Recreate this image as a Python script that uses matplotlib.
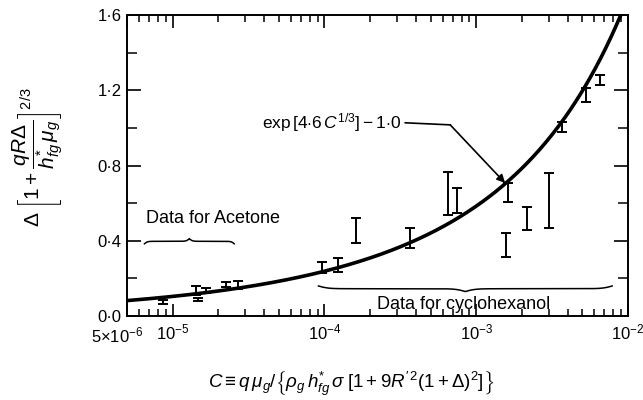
import numpy as np
import matplotlib.pyplot as plt
from matplotlib.ticker import FixedLocator, NullFormatter, LogLocator

plt.rcParams["font.family"] = ["Liberation Sans", "DejaVu Sans"]
plt.rcParams["mathtext.fontset"] = "custom"
plt.rcParams["mathtext.rm"] = "Liberation Sans"
plt.rcParams["mathtext.it"] = "Liberation Sans:italic"
plt.rcParams["mathtext.bf"] = "Liberation Sans:bold"

# error bars (low / high of each run) against the dimensionless flux C
acetone_c = [8.6e-6, 1.42e-5, 1.47e-5, 1.65e-5, 2.23e-5, 2.68e-5]
acetone_lo = [0.065, 0.11, 0.08, 0.122, 0.154, 0.144]
acetone_hi = [0.085, 0.16, 0.095, 0.149, 0.18, 0.186]

cyclo_c = [9.7e-5, 1.22e-4, 1.62e-4, 3.68e-4, 6.5e-4, 7.5e-4, 1.57e-3,
           1.62e-3, 2.17e-3, 3.02e-3, 3.68e-3, 5.3e-3, 6.5e-3]
cyclo_lo = [0.229, 0.234, 0.39, 0.362, 0.537, 0.548, 0.314,
            0.606, 0.457, 0.468, 0.98, 1.14, 1.23]
cyclo_hi = [0.287, 0.31, 0.52, 0.468, 0.766, 0.68, 0.44,
            0.707, 0.58, 0.76, 1.03, 1.21, 1.28]

x_ticks = [5e-6, 1e-5, 1e-4, 1e-3, 1e-2]
x_labels = ["", r"$10^{-5}$", r"$10^{-4}$", r"$10^{-3}$", r"$10^{-2}$"]
y_ticks = [0.0, 0.4, 0.8, 1.2, 1.6]
y_labels = ["0·0", "0·4", "0·8", "1·2", "1·6"]
y_minor = [0.2, 0.6, 1.0, 1.4]

# correlation curve constants
K = 4.6
OFFSET = 1.0


def correlation(c):
    return np.exp(K * np.cbrt(c)) - OFFSET


def draw_brace(ax, x0, x1, y, height, lw=1.1):
    """Horizontal curly brace on a log-x axis; height > 0 puts the cusp up."""
    u0, u1 = np.log10(x0), np.log10(x1)
    t = np.linspace(0.0, 1.0, 401)
    half = t[: len(t) // 2 + 1]
    beta = 60.0
    yh = 1 / (1 + np.exp(-beta * (half - half[0]))) + 1 / (1 + np.exp(-beta * (half - half[-1])))
    shape = np.concatenate((yh, yh[-2::-1])) - 1.0
    ax.plot(10 ** (u0 + t * (u1 - u0)), y + height * shape, color="k", lw=lw,
            solid_capstyle="round")


fig = plt.figure(figsize=(6.43, 4.0), dpi=100)
ax = fig.add_axes([127 / 643, 1 - 316 / 400, 501 / 643, 301 / 400])
ax.set_xscale("log")
ax.set_xlim(5e-6, 1e-2)
ax.set_ylim(0, 1.6)

cc = np.logspace(np.log10(5e-6), -2, 400)
ax.plot(cc, correlation(cc), color="k", lw=2.6)

for cs, lo, hi in ((acetone_c, acetone_lo, acetone_hi), (cyclo_c, cyclo_lo, cyclo_hi)):
    lo = np.array(lo)
    hi = np.array(hi)
    mid = (lo + hi) / 2
    ax.errorbar(cs, mid, yerr=(hi - lo) / 2, fmt="none", ecolor="k",
                elinewidth=1.4, capsize=3.8, capthick=1.4)

# ticks all round, pointing inward
ax.xaxis.set_major_locator(FixedLocator(x_ticks))
ax.set_xticklabels(x_labels)
ax.xaxis.set_minor_locator(LogLocator(base=10, subs=np.arange(2, 10)))
ax.xaxis.set_minor_formatter(NullFormatter())
ax.set_yticks(y_ticks)
ax.set_yticklabels(y_labels)
ax.yaxis.set_minor_locator(FixedLocator(y_minor))
ax.tick_params(axis="x", which="major", direction="in", top=True, length=9, width=1.2,
               pad=5, labelsize=12)
ax.tick_params(axis="x", which="minor", direction="in", top=True, length=5, width=1.1)
ax.tick_params(axis="y", which="major", direction="in", right=True, length=10, width=1.2,
               pad=4, labelsize=12)
ax.tick_params(axis="y", which="minor", direction="in", right=True, length=7, width=1.1)
for sp in ax.spines.values():
    sp.set_linewidth(1.4)

ax.text(6.45e-6, -0.03, r"$5{\times}10^{-6}$", transform=ax.get_xaxis_transform(),
        ha="right", va="top", fontsize=12)

# correlation label with leader arrow
ax.text(3.2e-4, 1.027, r"exp$\,[4{\cdot}6\,C^{1/3}]-1{\cdot}0$", ha="right", va="center",
        fontsize=12.5)
ax.plot([3.41e-4, 6.74e-4], [1.027, 1.016], color="k", lw=1.2)
ax.annotate("", xy=(1.55e-3, 0.707), xytext=(6.74e-4, 1.016),
            arrowprops=dict(arrowstyle="-|>", color="k", lw=1.2, mutation_scale=12,
                            shrinkA=0, shrinkB=0))

ax.text(6.64e-6, 0.52, "Data for Acetone", ha="left", va="center", fontsize=13)
draw_brace(ax, 6.5e-6, 2.55e-5, 0.397, 0.028)

ax.text(2.23e-4, 0.06, "Data for cyclohexanol", ha="left", va="center", fontsize=13)
draw_brace(ax, 9.1e-5, 7.9e-3, 0.145, -0.03)

fig.text(38 / 643, 1 - 157 / 400,
         r"$\Delta\;{\left[1+\dfrac{qR\Delta}{h^{*}_{fg}\,\mu_g}\right]}^{2/3}$",
         rotation=90, ha="center", va="center", fontsize=15)
fig.text(351 / 643, 1 - 384 / 400,
         r"$C\equiv q\,\mu_g/\left\{\rho_g\,h^{*}_{fg}\,\sigma\;[1+9R^{\prime\,2}(1+\Delta)^{2}]\right\}$",
         ha="center", va="center", fontsize=13.5)

fig.savefig("out.png", dpi=100)
